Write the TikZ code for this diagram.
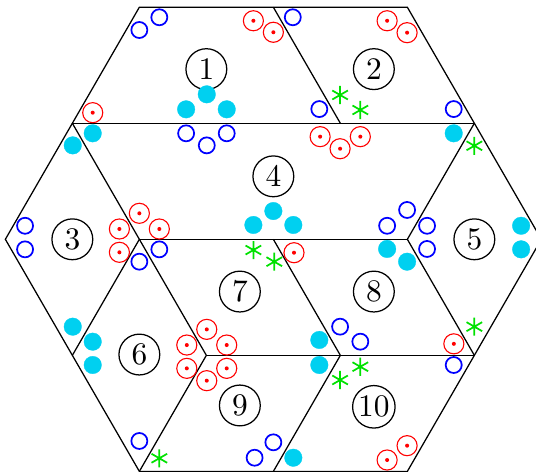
\documentclass[tikz,border=0pt]{standalone}
\usetikzlibrary{plotmarks}
\definecolor{pastille}{RGB}{0,208,240}
\definecolor{vert}{RGB}{0,225,0}
% cercle pointe (vecteur sortant)
\pgfdeclareplotmark{odot}{%
  \pgfpathcircle{\pgfpointorigin}{\pgfplotmarksize}\pgfusepathqstroke
  \pgfpathcircle{\pgfpointorigin}{0.2\pgfplotmarksize}\pgfusepathqfill}
\tikzset{
  num/.style={draw,circle,minimum size=13pt,inner sep=0.5pt},
  anneau/.style={draw=blue,line width=0.55pt,mark=o,mark size=2.55pt},
  pastilles/.style={draw=pastille,fill=pastille,line width=0.1pt,mark=*,mark size=2.8pt},
  pointes/.style={draw=red,fill=red,line width=0.35pt,mark=odot,mark size=3.2pt},
  etoiles/.style={draw=vert,line width=0.55pt,mark=asterisk,mark size=2.87pt}
}
\begin{document}
\begin{tikzpicture}[x=1.5cm,y=1.5cm]
    \useasboundingbox (-2.04,-1.736) rectangle (1.96,1.786);
    % hexagone et decoupage
    \draw (-2,0) -- (-1,1.732) -- (1,1.732) -- (2,0) -- (1,-1.732) -- (-1,-1.732) -- cycle;
    \draw (-1.5,0.866) -- (1.5,0.866);
    \draw (0,1.732) -- (0.5,0.866);
    \draw (-1.5,0.866) -- (-1,0) -- (-1.5,-0.866);
    \draw (1.5,0.866) -- (1,0) -- (1.5,-0.866);
    \draw (-1,0) -- (1,0);
    \draw (-1,0) -- (-0.5,-0.866) -- (-1,-1.732);
    \draw (0,0) -- (0.5,-0.866) -- (0,-1.732);
    \draw (-0.5,-0.866) -- (1.5,-0.866);
    % numeros des zones
    \node[num] (z1) at (-0.5,1.27) {1};
    \node[num] (z2) at (0.75,1.27) {2};
    \node[num] (z3) at (-1.5,0) {3};
    \node[num] (z4) at (0,0.47) {4};
    \node[num] (z5) at (1.5,0) {5};
    \node[num] (z6) at (-1,-0.86) {6};
    \node[num] (z7) at (-0.25,-0.39) {7};
    \node[num] (z8) at (0.75,-0.39) {8};
    \node[num] (z9) at (-0.25,-1.24) {9};
    \node[num] (z10) at (0.75,-1.25) {10};
    % marques
    \path[anneau] plot[only marks] coordinates {(-1.0,1.562) (-0.851,1.657) (0.145,1.657) (0.343,0.972)
        (1.346,0.972) (-0.651,0.791) (-0.497,0.701) (-0.348,0.791) (-1.853,0.101) (-1.853,-0.075)
        (0.849,0.101) (0.998,0.219) (1.147,0.101) (1.147,-0.072) (-0.851,-0.075) (-1.0,-0.167)
        (0.498,-0.652) (0.649,-0.764) (1.346,-0.938) (-1.0,-1.505) (-0.14,-1.630) (0,-1.515)};
    \path[pastilles] plot[only marks] coordinates {(-0.497,1.082) (-0.651,0.970) (-0.348,0.970)
        (-1.348,0.791) (-1.497,0.701) (1.346,0.791) (0,0.211) (-0.149,0.107) (0.149,0.107)
        (1.849,0.101) (1.849,-0.075) (0.849,-0.072) (0.998,-0.167) (-1.497,-0.652) (-1.348,-0.764)
        (-1.348,-0.938) (0.343,-0.751) (0.343,-0.938) (0.149,-1.630)};
    \path[pointes] plot[only marks] coordinates {(-1.348,0.945) (-0.149,1.631) (0,1.545) (0.849,1.631)
        (0.998,1.542) (0.349,0.766) (0.498,0.676) (0.649,0.766) (-1.0,0.194) (-1.149,0.077)
        (-0.851,0.077) (-1.149,-0.097) (0.154,-0.100) (-0.497,-0.672) (-0.646,-0.789) (-0.348,-0.789)
        (-0.646,-0.963) (-0.348,-0.963) (-0.497,-1.055) (1.347,-0.78) (0.998,-1.540) (0.849,-1.647)};
    \path[etoiles] plot[only marks] coordinates {(0.498,1.077) (0.649,0.965) (1.5,0.698) (-0.149,-0.080)
        (0.007,-0.167) (0.649,-0.951) (0.498,-1.050) (1.5,-0.652) (-0.851,-1.634)};
\end{tikzpicture}
\end{document}
